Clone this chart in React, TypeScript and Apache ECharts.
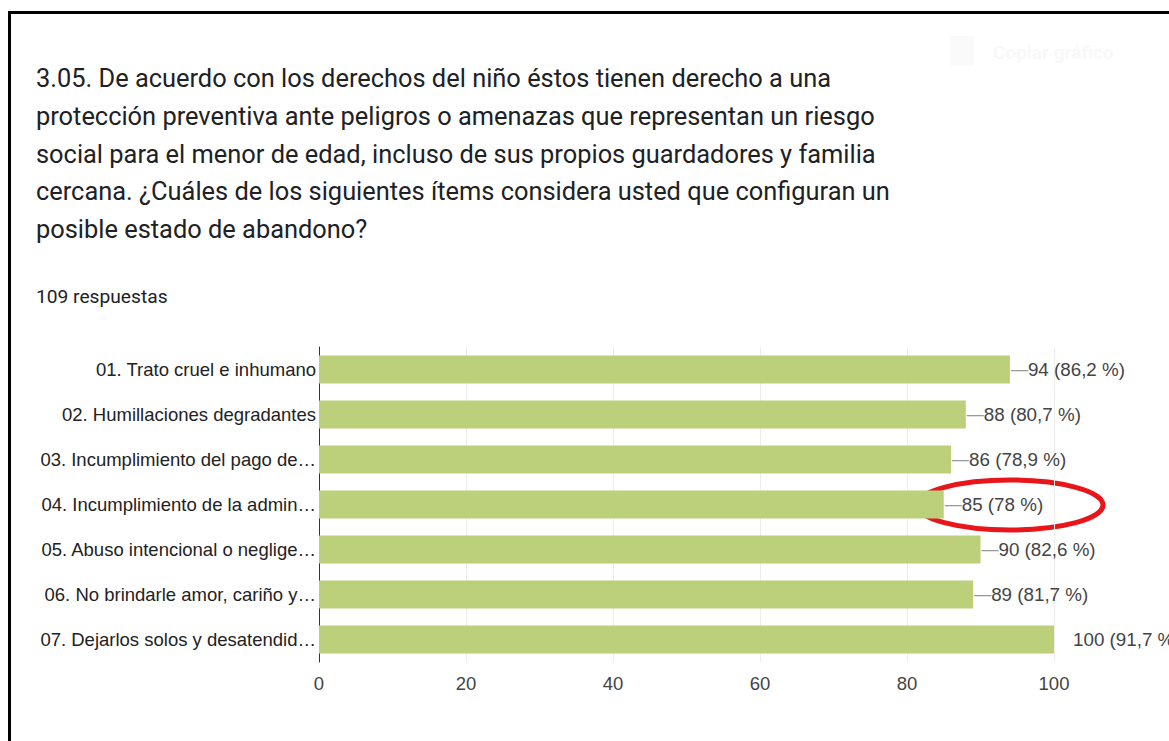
import React, { useEffect, useRef } from "react";
import * as echarts from "echarts";

const titleLines = [
  "3.05. De acuerdo con los derechos del niño éstos tienen derecho a una",
  "protección preventiva ante peligros o amenazas que representan un riesgo",
  "social para el menor de edad, incluso de sus propios guardadores y familia",
  "cercana. ¿Cuáles de los siguientes ítems considera usted que configuran un",
  "posible estado de abandono?",
];
const responses = "109 respuestas";
const totalResponses = 109;
const categories = [
  "01. Trato cruel e inhumano",
  "02. Humillaciones degradantes",
  "03. Incumplimiento del pago de…",
  "04. Incumplimiento de la admin…",
  "05. Abuso intencional o neglige…",
  "06. No brindarle amor, cariño y…",
  "07. Dejarlos solos y desatendid…",
];
const values = [94, 88, 86, 85, 90, 89, 100];
const xTicks = [0, 20, 40, 60, 80, 100];

const SANS = "Liberation Sans, Arial, sans-serif";
const FS = 18.5;

function pct(v: number) {
  let s = ((v / totalResponses) * 100).toFixed(1);
  if (s.endsWith(".0")) s = s.slice(0, -2);
  return s.replace(".", ",");
}

export default function App() {
  const ref = useRef<HTMLDivElement>(null);
  useEffect(() => {
    if (!ref.current) return;
    const chart = echarts.init(ref.current, undefined, { renderer: "svg" });
    const data = values.map((v) => {
      const txt = `${v} (${pct(v)} %)`;
      const isMax = v === 100;
      return {
        value: v,
        label: isMax
          ? { formatter: `{t|${txt}}`, distance: 19 }
          : { formatter: `{d|—}{t|${txt}}`, distance: 1 },
      };
    });
    chart.setOption({
      animation: false,
      backgroundColor: "#ffffff",
      grid: { left: 319, top: 347, width: 735, height: 315, containLabel: false },
      xAxis: {
        type: "value",
        min: 0,
        max: xTicks[xTicks.length - 1],
        interval: 20,
        axisLine: { show: false },
        axisTick: { show: false },
        splitLine: { show: true, lineStyle: { color: "#ececec", width: 1 } },
        axisLabel: { color: "#444444", fontSize: FS, fontFamily: SANS, margin: 12 },
      },
      yAxis: {
        type: "category",
        inverse: true,
        data: categories,
        axisLine: { show: true, lineStyle: { color: "#333333", width: 1 } },
        axisTick: { show: false },
        axisLabel: { color: "#222222", fontSize: FS, fontFamily: SANS, margin: 3 },
      },
      series: [
        {
          type: "bar",
          data,
          barWidth: 28,
          itemStyle: { color: "#bccf7b" },
          label: {
            show: true,
            position: "right",
            fontFamily: SANS,
            rich: {
              d: { color: "#9a9a9a", fontSize: 17, fontFamily: SANS },
              t: { color: "#444444", fontSize: 18.8, fontFamily: SANS },
            },
          },
        },
      ],
      graphic: [
        {
          type: "rect",
          shape: { x: 9.5, y: 12.5, width: 1300, height: 900 },
          style: { fill: "none", stroke: "#000000", lineWidth: 3 },
          silent: true,
        },
        ...titleLines.map((line, i) => ({
          type: "text",
          x: 36,
          y: 78 + i * 37.8,
          style: {
            text: line,
            fill: "#202124",
            font: "25.4px Roboto, 'Noto Sans', sans-serif",
            textVerticalAlign: "middle",
          },
        })),
        {
          type: "text",
          x: 36,
          y: 296,
          style: {
            text: responses,
            fill: "#202124",
            font: "19.2px Roboto, 'Noto Sans', sans-serif",
            textVerticalAlign: "middle",
          },
        },
        {
          type: "rect",
          shape: { x: 950, y: 36, width: 24, height: 30, r: 2 },
          style: { fill: "#fafafa" },
          silent: true,
        },
        {
          type: "text",
          x: 993,
          y: 52,
          style: {
            text: "Copiar gráfico",
            fill: "#f8f8f8",
            font: "bold 19px Roboto, sans-serif",
            textVerticalAlign: "middle",
          },
        },
        {
          type: "ellipse",
          shape: { cx: 1010, cy: 505, rx: 93, ry: 25 },
          style: { fill: "none", stroke: "#e8151b", lineWidth: 5 },
          silent: true,
        },
      ],
    });
    return () => chart.dispose();
  }, []);
  return (
    <div
      ref={ref}
      style={{ position: "fixed", left: 0, top: 0, width: 1169, height: 741 }}
    />
  );
}
